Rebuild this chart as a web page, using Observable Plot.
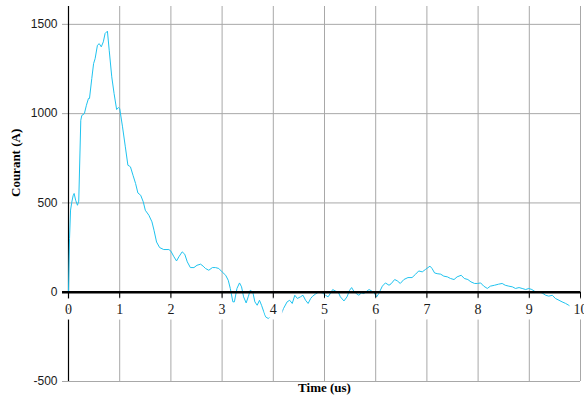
<!DOCTYPE html>
<html>
<head>
<meta charset="utf-8">
<script src="https://cdn.jsdelivr.net/npm/d3@7"></script>
<script src="https://cdn.jsdelivr.net/npm/@observablehq/plot@0.6"></script>
<style>
  html, body { margin: 0; padding: 0; background: #fff; overflow: hidden; }
</style>
</head>
<body>
<div id="chart"></div>
<script>
const time = [0, 0.02, 0.04, 0.065, 0.09, 0.11, 0.14, 0.175, 0.2, 0.24,
  0.26, 0.31, 0.35, 0.39, 0.41, 0.455, 0.49, 0.52, 0.565, 0.6,
  0.64, 0.68, 0.715, 0.76, 0.795, 0.845, 0.89, 0.94, 0.975, 1.0,
  1.055, 1.11, 1.16, 1.185, 1.21, 1.26, 1.31, 1.355, 1.41, 1.46,
  1.5, 1.57, 1.63, 1.67, 1.72, 1.78, 1.86, 1.96, 2.0, 2.06,
  2.11, 2.155, 2.22, 2.27, 2.32, 2.38, 2.45, 2.51, 2.58, 2.63,
  2.675, 2.74, 2.81, 2.87, 2.935, 3.0, 3.07, 3.12, 3.16, 3.21,
  3.24, 3.29, 3.34, 3.38, 3.42, 3.47, 3.51, 3.55, 3.6, 3.64,
  3.685, 3.73, 3.77, 3.815, 3.85, 3.9, 3.945, 4.0, 4.05, 4.095,
  4.16, 4.2, 4.27, 4.32, 4.37, 4.42, 4.47, 4.53, 4.58, 4.63,
  4.68, 4.73, 4.77, 4.82, 4.89, 4.96, 5.02, 5.07, 5.12, 5.16,
  5.21, 5.27, 5.31, 5.38, 5.44, 5.49, 5.53, 5.57, 5.62, 5.67,
  5.72, 5.77, 5.81, 5.87, 5.92, 5.96, 6.02, 6.06, 6.13, 6.19,
  6.26, 6.3, 6.37, 6.42, 6.48, 6.55, 6.63, 6.71, 6.78, 6.84,
  6.91, 6.97, 7.06, 7.1, 7.15, 7.2, 7.27, 7.33, 7.4, 7.46,
  7.53, 7.59, 7.67, 7.73, 7.8, 7.86, 7.93, 7.99, 8.05, 8.11,
  8.18, 8.24, 8.32, 8.4, 8.47, 8.53, 8.6, 8.67, 8.73, 8.8,
  8.86, 8.93, 8.99, 9.05, 9.12, 9.18, 9.25, 9.32, 9.38, 9.45,
  9.51, 9.58, 9.64, 9.71, 9.77, 9.84];

const courant = [0, 300, 460, 505, 540, 553, 515, 487, 510, 963,
  990, 1000, 1047, 1085, 1085, 1197, 1280, 1308, 1383, 1392,
  1374, 1402, 1449, 1462, 1355, 1206, 1113, 1023, 1034, 1029,
  926, 814, 711, 707, 702, 655, 609, 556, 543, 506,
  459, 431, 394, 347, 281, 250, 239, 239, 230, 198,
  175, 198, 226, 213, 170, 138, 138, 151, 157, 146,
  133, 123, 138, 138, 133, 114, 95, 67, 21, -54,
  -54, 21, 52, 30, -26, -60, -26, 11, 0, -54,
  -73, -45, -73, -110, -138, -147, -138, -125, -100, -91,
  -119, -91, -54, -45, -63, -17, -35, -26, -17, -45,
  -63, -35, -22, -11, 2, -4, -17, -26, -4, 15,
  7, 0, -26, -49, -26, 11, 26, 7, -7, -17,
  -4, -7, 2, 15, 7, 0, -26, -7, 34, 52,
  39, 47, 71, 64, 49, 71, 82, 82, 101, 119,
  114, 127, 146, 133, 108, 104, 101, 90, 86, 77,
  71, 86, 95, 77, 71, 58, 49, 49, 52, 34,
  21, 34, 39, 45, 49, 39, 34, 30, 21, 26,
  21, 15, 21, 15, 2, 2, -4, -17, -22, -17,
  -35, -45, -54, -63, -73, -86];

const xTicks = [0, 1, 2, 3, 4, 5, 6, 7, 8, 9, 10];
const yTicks = [-500, 0, 500, 1000, 1500];
const yGrid = [-500, 500, 1000, 1500];
const xTitle = "Time (us)";
const yTitle = "Courant (A)";

const data = time.map((t, i) => ({t, v: courant[i]}));

const serif = "'Liberation Serif', 'Times New Roman', serif";
const sans = "'Liberation Sans', Arial, sans-serif";
const gridColor = "#a8a8a8";

const chart = Plot.plot({
  width: 584,
  height: 399,
  marginLeft: 68,
  marginRight: 4,
  marginTop: 6,
  marginBottom: 18,
  style: {background: "#fff"},
  x: {domain: [0, 10], axis: null},
  y: {domain: [-500, 1600], axis: null},
  marks: [
    Plot.gridX(xTicks, {stroke: gridColor, strokeOpacity: 1}),
    Plot.gridY(yGrid, {stroke: gridColor, strokeOpacity: 1, insetLeft: -6}),
    Plot.ruleX([0], {stroke: "#000", strokeWidth: 1.2}),
    Plot.line(data, {x: "t", y: "v", stroke: "#1fc3ef", strokeWidth: 1}),
    Plot.ruleY([0], {stroke: "#000", strokeWidth: 2.6, insetLeft: -6}),
    Plot.ruleX(xTicks, {x: d => d, y1: () => 0, y2: () => 0, insetBottom: -6, stroke: "#000", strokeWidth: 1}),
    Plot.text(xTicks, {
      x: d => d, y: () => 0, dy: 17, text: d => String(d),
      fontFamily: serif, fontSize: 14, fill: "#1a1a1a",
      stroke: "#fff", strokeWidth: 11, paintOrder: "stroke"
    }),
    Plot.text(yTicks, {
      y: d => d, frameAnchor: "left", dx: -11, textAnchor: "end",
      text: d => String(d), fontFamily: sans, fontSize: 12, fill: "#1a1a1a"
    }),
    Plot.text([yTitle], {
      frameAnchor: "left", dx: -53, dy: 3, rotate: -90, text: d => d,
      fontFamily: serif, fontSize: 13, fontWeight: "bold", fill: "#000"
    }),
    Plot.text([xTitle], {
      frameAnchor: "bottom", dy: 10, text: d => d,
      fontFamily: serif, fontSize: 13, fontWeight: "bold", fill: "#000"
    })
  ]
});
document.getElementById("chart").appendChild(chart);
</script>
</body>
</html>
